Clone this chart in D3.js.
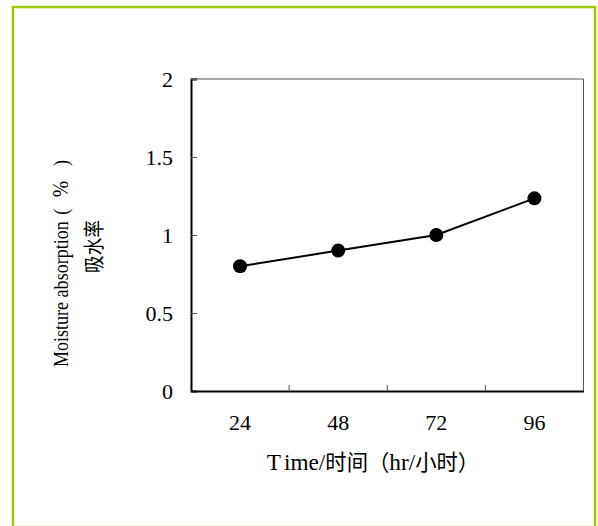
<!DOCTYPE html>
<html>
<head>
<meta charset="utf-8">
<script src="https://cdn.jsdelivr.net/npm/d3@7"></script>
<style>
  html, body { margin: 0; padding: 0; background: #fff; }
  text { font-family: "Liberation Serif", "Times New Roman", serif; fill: #000; }
  .cjk { font-family: "Noto Sans CJK SC", sans-serif; }
</style>
</head>
<body>
<svg id="chart" width="598" height="526"></svg>
<script>
// data
const hours = ["24", "48", "72", "96"];
const absorption = [0.8, 0.9, 1.0, 1.235];
const yTicks = [0, 0.5, 1, 1.5, 2];

const svg = d3.select("#chart");

// green frame round the figure
svg.append("rect")
  .attr("x", 13).attr("y", 7)
  .attr("width", 582).attr("height", 530)
  .attr("fill", "none")
  .attr("stroke", "#99cc00")
  .attr("stroke-width", 2.5);
svg.append("line")
  .attr("x1", 14).attr("x2", 594)
  .attr("y1", 525.5).attr("y2", 525.5)
  .attr("stroke", "#eef5d8").attr("stroke-width", 1);

const plot = { left: 191, right: 583.5, top: 79, bottom: 391 };

const x = d3.scaleBand()
  .domain(hours)
  .range([plot.left, plot.right]);

const y = d3.scaleLinear()
  .domain([0, 2])
  .range([plot.bottom, plot.top]);

// plot frame: top and right are thin grey, left and bottom black
svg.append("line")
  .attr("x1", plot.left).attr("x2", plot.right)
  .attr("y1", plot.top).attr("y2", plot.top)
  .attr("stroke", "#555").attr("stroke-width", 1);
svg.append("line")
  .attr("x1", plot.right).attr("x2", plot.right)
  .attr("y1", plot.top).attr("y2", plot.bottom)
  .attr("stroke", "#555").attr("stroke-width", 1);

// y axis, ticks pointing inward
const yAxis = svg.append("g")
  .attr("transform", `translate(${plot.left},0)`)
  .call(d3.axisLeft(y).tickValues(yTicks).tickSize(-6).tickPadding(18).tickFormat(d3.format("")));
yAxis.select(".domain").attr("stroke", "#000").attr("stroke-width", 2);
yAxis.selectAll(".tick line").attr("stroke", "#555");
yAxis.selectAll(".tick text")
  .attr("font-size", 22)
  .style("font-family", "'Liberation Serif', serif");

// x axis: ticks between categories, pointing inward
const xAxis = svg.append("g")
  .attr("transform", `translate(0,${plot.bottom})`)
  .call(d3.axisBottom(x).tickSize(0).tickPadding(23));
xAxis.select(".domain").attr("stroke", "#000").attr("stroke-width", 2);
xAxis.selectAll(".tick text")
  .attr("font-size", 22)
  .style("font-family", "'Liberation Serif', serif");

svg.append("g")
  .selectAll("line")
  .data(hours.slice(1))
  .join("line")
  .attr("x1", d => x(d)).attr("x2", d => x(d))
  .attr("y1", plot.bottom).attr("y2", plot.bottom - 6)
  .attr("stroke", "#555").attr("stroke-width", 1);

// series
const cx = (d, i) => x(hours[i]) + x.bandwidth() / 2;

svg.append("path")
  .datum(absorption)
  .attr("fill", "none")
  .attr("stroke", "#000")
  .attr("stroke-width", 2)
  .attr("d", d3.line().x(cx).y(d => y(d)));

svg.append("g")
  .selectAll("circle")
  .data(absorption)
  .join("circle")
  .attr("cx", cx)
  .attr("cy", d => y(d))
  .attr("r", 7)
  .attr("fill", "#000");

// axis titles (the original glyphs are a bit condensed)
const xTitle = svg.append("text")
  .attr("transform", "translate(373,470) scale(0.97,1)")
  .attr("text-anchor", "middle")
  .attr("font-size", 24);
xTitle.append("tspan").text("T");
xTitle.append("tspan").attr("dx", 3).text("ime/");
xTitle.append("tspan").attr("class", "cjk").attr("font-size", 22).text("时间（");
xTitle.append("tspan").text("hr/");
xTitle.append("tspan").attr("class", "cjk").attr("font-size", 22).text("小时）");

const yTitle = svg.append("text")
  .attr("transform", "translate(68,367) rotate(-90) scale(0.82,1)")
  .attr("text-anchor", "start")
  .attr("font-size", 22);
yTitle.append("tspan").text("Moisture absorption");
yTitle.append("tspan").attr("dx", 8).text("(");
yTitle.append("tspan").attr("dx", 14).attr("font-size", 24).text("%");
yTitle.append("tspan").attr("dx", 18).text(")");

svg.append("text")
  .attr("class", "cjk")
  .attr("transform", "translate(100.5,246.5) rotate(-90) scale(0.84,1)")
  .attr("text-anchor", "middle")
  .attr("font-size", 21)
  .text("吸水率");
</script>
</body>
</html>
